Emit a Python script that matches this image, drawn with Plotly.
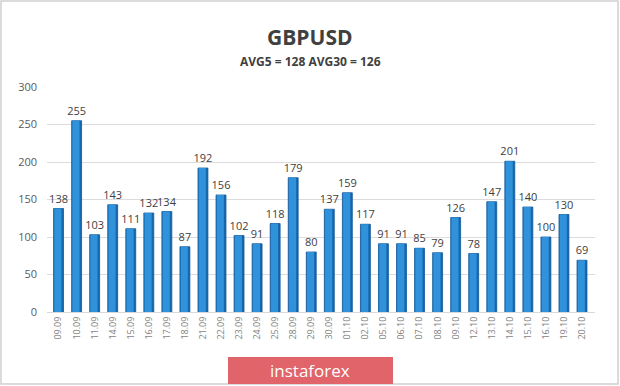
import plotly.graph_objects as go

dates = ["09.09","10.09","11.09","14.09","15.09","16.09","17.09","18.09","21.09","22.09",
         "23.09","24.09","25.09","28.09","29.09","30.09","01.10","02.10","05.10","06.10",
         "07.10","08.10","09.10","12.10","13.10","14.10","15.10","16.10","19.10","20.10"]
values = [138,255,103,143,111,132,134,87,192,156,
          102,91,118,179,80,137,159,117,91,91,
          85,79,126,78,147,201,140,100,130,69]
y_ticks = [0,50,100,150,200,250,300]

W, H = 620, 386
L, R, T, B = 47, 25, 87, 74
pw, ph = W - L - R, H - T - B

def px(x):
    return (x - L) / pw

def py(y):
    return (H - B - y) / ph

BW = 0.55
fig = go.Figure()
# dark body (right side shading)
fig.add_trace(go.Bar(
    x=dates, y=values, width=BW, offset=-BW / 2,
    marker=dict(color="#1767ad", line=dict(color="#12589a", width=0.8)),
    text=[str(v) for v in values], textposition="outside", constraintext="none",
    textfont=dict(size=11, color="#404040", family="Open Sans"),
    cliponaxis=False, hoverinfo="x+y",
))
# lighter face
fig.add_trace(go.Bar(
    x=dates, y=values, width=BW * 0.72, offset=-BW / 2 + 0.04,
    marker=dict(color="#2f92da", line=dict(width=0)),
    hoverinfo="skip",
))

fig.update_layout(
    width=W, height=H,
    margin=dict(l=L, r=R, t=T, b=B),
    paper_bgcolor="white", plot_bgcolor="white",
    showlegend=False, barmode="overlay",
    font=dict(family="Open Sans", color="#595959"),
    xaxis=dict(type="category", range=[-0.64, 29.72], tickangle=-90,
               tickfont=dict(size=9, color="#7f7f7f"),
               showgrid=False, showline=True, linecolor="#d9d9d9", ticks="", automargin=False),
    yaxis=dict(range=[0, 300], tickvals=y_ticks, tickfont=dict(size=11, color="#595959"),
               showgrid=True, gridcolor="#dcdcdc", zeroline=False, ticks="", showline=False,
               automargin=False, ticklabelstandoff=9),
    shapes=[
        dict(type="rect", xref="paper", yref="paper",
             x0=px(1), x1=px(W - 2), y0=py(H - 2), y1=py(1),
             line=dict(color="#d0d0d0", width=1.5), fillcolor="rgba(0,0,0,0)", layer="below"),
        dict(type="rect", xref="paper", yref="paper",
             x0=px(228), x1=px(393), y0=py(384), y1=py(357),
             line=dict(width=0), fillcolor="#e0646a", layer="below"),
    ],
    annotations=[
        dict(text="<b>GBPUSD</b>", xref="paper", yref="paper", x=px(310), y=py(37),
             xanchor="center", yanchor="middle",
             showarrow=False, font=dict(size=21, color="#404040", family="Open Sans")),
        dict(text="<b>AVG5 = 128 AVG30 = 126</b>", xref="paper", yref="paper", x=px(310), y=py(62),
             xanchor="center", yanchor="middle",
             showarrow=False, font=dict(size=12, color="#404040", family="Open Sans")),
        dict(text="instaforex", xref="paper", yref="paper", x=px(310), y=py(370),
             xanchor="center", yanchor="middle",
             showarrow=False, font=dict(size=17, color="white", family="Open Sans")),
    ],
)

fig.write_html("out.html", config={"displayModeBar": False},
               post_script="document.body.style.margin='0';")
